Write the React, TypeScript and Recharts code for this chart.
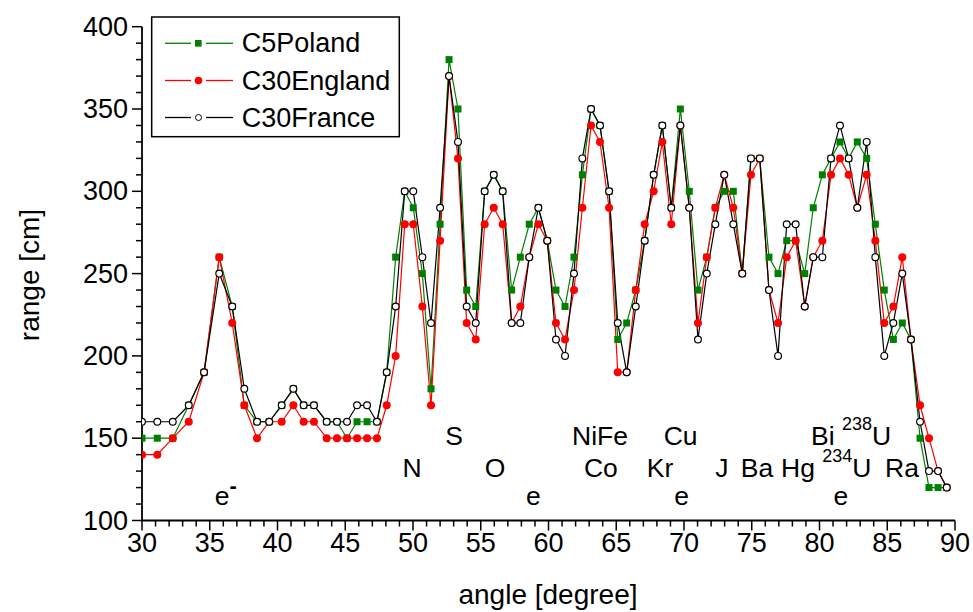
import React from 'react';
import { LineChart, Line, XAxis, YAxis, ReferenceDot } from 'recharts';

const FONT = "'Liberation Sans', Arial, Helvetica, sans-serif";

const angles = [
  30, 31.13, 32.27, 33.45, 34.58, 35.7, 36.66, 37.55, 38.49, 39.39,
  40.31, 41.17, 41.93, 42.69, 43.63, 44.39, 45.13, 45.87, 46.61, 47.34,
  48.06, 48.72, 49.39, 50.02, 50.69, 51.33, 52.0, 52.66, 53.32, 53.96,
  54.63, 55.29, 55.96, 56.62, 57.28, 57.92, 58.58, 59.25, 59.91, 60.55,
  61.22, 61.88, 62.5, 63.14, 63.8, 64.47, 65.11, 65.77, 66.44, 67.1,
  67.76, 68.4, 69.06, 69.73, 70.39, 71.03, 71.68, 72.31, 72.97, 73.64,
  74.3, 74.94, 75.59, 76.27, 76.94, 77.58, 78.24, 78.91, 79.54, 80.21,
  80.85, 81.51, 82.15, 82.79, 83.48, 84.12, 84.78, 85.45, 86.11, 86.75,
  87.42, 88.08, 88.75, 89.39,
];

const c5Poland = [
  150, 150, 150, 170, 190, 260, 230, 170, 160, 160,
  170, 180, 170, 170, 160, 160, 150, 160, 160, 160,
  190, 260, 300, 290, 250, 180, 280, 380, 350, 240,
  230, 300, 310, 300, 240, 260, 280, 290, 270, 240,
  230, 260, 310, 350, 340, 300, 210, 220, 240, 270,
  310, 340, 290, 350, 300, 240, 260, 290, 300, 300,
  250, 320, 320, 260, 250, 270, 270, 250, 290, 310,
  320, 330, 320, 330, 320, 280, 240, 210, 220, 210,
  150, 120, 120, 120,
];

const c30England = [
  140, 140, 150, 160, 190, 260, 220, 170, 150, 160,
  160, 170, 160, 160, 150, 150, 150, 150, 150, 150,
  170, 200, 280, 280, 230, 170, 270, 370, 320, 220,
  210, 280, 290, 280, 220, 230, 260, 280, 270, 220,
  210, 240, 290, 340, 330, 290, 190, 190, 240, 280,
  300, 330, 280, 340, 290, 220, 260, 290, 310, 290,
  250, 310, 320, 240, 220, 260, 270, 230, 260, 270,
  310, 320, 310, 290, 310, 270, 220, 230, 260, 210,
  170, 150, 130, 120,
];

const c30France = [
  160, 160, 160, 170, 190, 250, 230, 180, 160, 160,
  170, 180, 170, 170, 160, 160, 160, 170, 170, 160,
  190, 230, 300, 300, 260, 220, 290, 370, 330, 230,
  220, 300, 310, 300, 220, 220, 260, 290, 270, 210,
  200, 250, 320, 350, 340, 300, 220, 190, 230, 270,
  310, 340, 290, 340, 290, 210, 250, 280, 310, 280,
  250, 320, 320, 240, 200, 280, 280, 230, 260, 260,
  320, 340, 320, 290, 330, 260, 200, 220, 250, 210,
  160, 130, 130, 120,
];

const xMajorTicks = [30, 35, 40, 45, 50, 55, 60, 65, 70, 75, 80, 85, 90];
const yMajorTicks = [100, 150, 200, 250, 300, 350, 400];
const xTicks = Array.from({ length: 61 }, (_, i) => 30 + i);
const yTicks = Array.from({ length: 31 }, (_, i) => 100 + i * 10);

const seriesNames = ['C5Poland', 'C30England', 'C30France'];

type Ann = { x: number; y: number; text?: string; pre?: string; sup?: string; post?: string; anchor: 'start' | 'middle'; minus?: boolean };
const annotations: Ann[] = [
  { text: 'S', x: 53.03, y: 145.9, anchor: 'middle' },
  { text: 'NiFe', x: 63.8, y: 145.9, anchor: 'middle' },
  { text: 'Cu', x: 69.75, y: 145.9, anchor: 'middle' },
  { pre: 'Bi ', sup: '238', post: 'U', x: 79.37, y: 145.9, anchor: 'start' },
  { text: 'N', x: 49.93, y: 126.4, anchor: 'middle' },
  { text: 'O', x: 56.05, y: 126.4, anchor: 'middle' },
  { text: 'Co', x: 63.87, y: 126.4, anchor: 'middle' },
  { text: 'Kr', x: 68.23, y: 126.4, anchor: 'middle' },
  { text: 'J', x: 72.8, y: 126.4, anchor: 'middle' },
  { text: 'Ba', x: 75.39, y: 126.4, anchor: 'middle' },
  { text: 'Hg', x: 78.41, y: 126.4, anchor: 'middle' },
  { pre: '', sup: '234', post: 'U', x: 80.2, y: 126.4, anchor: 'start' },
  { text: 'Ra', x: 86.09, y: 126.4, anchor: 'middle' },
  { pre: 'e', sup: '-', post: '', x: 35.36, y: 109.4, anchor: 'start', minus: true },
  { text: 'e', x: 58.89, y: 109.4, anchor: 'middle' },
  { text: 'e', x: 69.82, y: 109.4, anchor: 'middle' },
  { text: 'e', x: 81.57, y: 109.4, anchor: 'middle' },
];

const data = angles.map((a, i) => ({
  angle: a,
  poland: c5Poland[i],
  england: c30England[i],
  france: c30France[i],
}));

const GREEN = '#008000';
const RED = '#ff0000';

const XTick = (props: any) => {
  const { x, y, payload } = props;
  const major = xMajorTicks.includes(payload.value);
  return (
    <g>
      <line x1={x} y1={y} x2={x} y2={y + (major ? 10 : 6)} stroke="#000" strokeWidth={1.5} />
      {major && (
        <text x={x} y={y + 31} textAnchor="middle" fontSize={27} fontFamily={FONT} fill="#000">
          {payload.value}
        </text>
      )}
    </g>
  );
};

const YTick = (props: any) => {
  const { x, y, payload } = props;
  const major = yMajorTicks.includes(payload.value);
  return (
    <g>
      <line x1={x} y1={y} x2={x - (major ? 10 : 6)} y2={y} stroke="#000" strokeWidth={1.5} />
      {major && (
        <text x={x - 14} y={y} textAnchor="end" dominantBaseline="central" fontSize={27} fontFamily={FONT} fill="#000">
          {payload.value}
        </text>
      )}
    </g>
  );
};

const SquareDot = (p: any) =>
  p.cx == null || p.cy == null ? <g key={p.key} /> : (
    <rect key={p.key} x={p.cx - 3.5} y={p.cy - 3.5} width={7} height={7} fill={GREEN} />
  );
const RedDot = (p: any) =>
  p.cx == null || p.cy == null ? <g key={p.key} /> : <circle key={p.key} cx={p.cx} cy={p.cy} r={4} fill={RED} />;
const WhiteDot = (p: any) =>
  p.cx == null || p.cy == null ? <g key={p.key} /> : (
    <circle key={p.key} cx={p.cx} cy={p.cy} r={3.4} fill="#fff" stroke="#000" strokeWidth={1.2} />
  );

const renderAnnotation = (a: Ann) => (p: any) => {
  const { cx, cy } = p;
  if (a.text) {
    return (
      <text x={cx} y={cy} textAnchor={a.anchor} fontSize={26.5} fontFamily={FONT} fill="#000">
        {a.text}
      </text>
    );
  }
  return (
    <text x={cx} y={cy} textAnchor="start" fontSize={26.5} fontFamily={FONT} fill="#000" style={{ whiteSpace: 'pre' }}>
      {a.pre ? <tspan>{a.pre}</tspan> : null}
      {a.minus ? (
        <tspan fontSize={22} fontWeight="bold" dy={-12}>{a.sup}</tspan>
      ) : (
        <tspan fontSize={18} dy={-15}>{a.sup}</tspan>
      )}
      {a.post ? <tspan dy={a.minus ? 12 : 15} fontSize={26.5}>{a.post}</tspan> : null}
    </text>
  );
};

const LegendRow = ({ y, color, kind, label }: any) => (
  <g>
    <line x1={165} y1={y} x2={191} y2={y} stroke={color} strokeWidth={1.3} />
    <line x1={206} y1={y} x2={233} y2={y} stroke={color} strokeWidth={1.3} />
    {kind === 'square' && <rect x={195} y={y - 3.3} width={6.6} height={6.6} fill={GREEN} />}
    {kind === 'red' && <circle cx={198.5} cy={y} r={3.8} fill={RED} />}
    {kind === 'white' && <circle cx={198.5} cy={y} r={3} fill="#fff" stroke="#000" strokeWidth={1} />}
    <text x={241.7} y={y} dominantBaseline="central" fontSize={27} fontFamily={FONT} fill="#000">
      {label}
    </text>
  </g>
);

export default function App() {
  return (
    <div style={{ position: 'absolute', left: 0, top: 0, width: 973, height: 612, background: '#fff' }}>
      <LineChart
        width={973}
        height={612}
        data={data}
        margin={{ top: 26.7, right: 18, left: 0, bottom: 0 }}
      >
        <XAxis
          dataKey="angle"
          type="number"
          domain={[30, 90]}
          ticks={xTicks}
          interval={0}
          tickSize={0}
          tickMargin={0}
          tickLine={false}
          tick={XTick}
          axisLine={{ stroke: '#000', strokeWidth: 1.8 }}
          height={91.5}
          allowDataOverflow
        />
        <YAxis
          type="number"
          domain={[100, 400]}
          ticks={yTicks}
          interval={0}
          tickSize={0}
          tickMargin={0}
          tickLine={false}
          tick={YTick}
          axisLine={{ stroke: '#000', strokeWidth: 1.8 }}
          width={142}
          allowDataOverflow
        />
        <Line
          dataKey="poland"
          name={seriesNames[0]}
          stroke={GREEN}
          strokeWidth={1.2}
          dot={SquareDot}
          activeDot={false}
          isAnimationActive={false}
          type="linear"
        />
        <Line
          dataKey="england"
          name={seriesNames[1]}
          stroke={RED}
          strokeWidth={1.2}
          dot={RedDot}
          activeDot={false}
          isAnimationActive={false}
          type="linear"
        />
        <Line
          dataKey="france"
          name={seriesNames[2]}
          stroke="#000"
          strokeWidth={1.2}
          dot={WhiteDot}
          activeDot={false}
          isAnimationActive={false}
          type="linear"
        />
        {annotations.map((a, i) => (
          <ReferenceDot
            key={i}
            x={a.x}
            y={a.y}
            r={0}
            ifOverflow="visible"
            shape={renderAnnotation(a)}
          />
        ))}
      </LineChart>
      <svg
        width={973}
        height={612}
        style={{ position: 'absolute', left: 0, top: 0, pointerEvents: 'none' }}
      >
        <rect x={151.7} y={17} width={247.6} height={119.7} fill="#fff" stroke="#000" strokeWidth={1.5} />
        <LegendRow y={43.3} color={GREEN} kind="square" label={seriesNames[0]} />
        <LegendRow y={80.5} color={RED} kind="red" label={seriesNames[1]} />
        <LegendRow y={117.5} color="#000" kind="white" label={seriesNames[2]} />
        <text
          x={39}
          y={275}
          transform="rotate(-90 39 275)"
          textAnchor="middle"
          fontSize={28}
          fontFamily={FONT}
          fill="#000"
        >
          range [cm]
        </text>
        <text x={548} y={604} textAnchor="middle" fontSize={28} fontFamily={FONT} fill="#000">
          angle [degree]
        </text>
      </svg>
    </div>
  );
}
